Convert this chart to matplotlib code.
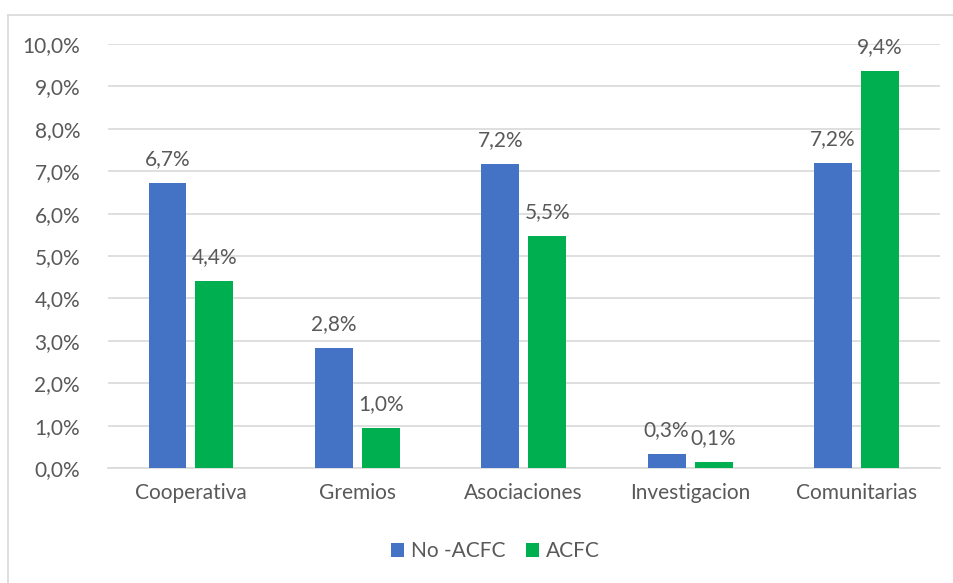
import matplotlib.pyplot as plt
import numpy as np
from matplotlib.lines import Line2D

categories = ['Cooperativa', 'Gremios', 'Asociaciones', 'Investigacion', 'Comunitarias']
no_acfc = [6.72, 2.83, 7.16, 0.33, 7.2]
acfc = [4.42, 0.95, 5.47, 0.14, 9.37]
no_acfc_labels = ['6,7%', '2,8%', '7,2%', '0,3%', '7,2%']
acfc_labels = ['4,4%', '1,0%', '5,5%', '0,1%', '9,4%']
yticks = np.arange(0, 11, 1)

plt.rcParams['font.family'] = ['Lato', 'DejaVu Sans']
text_color = '#595959'
blue = '#4472c4'
green = '#00b050'
fs = 15

fig = plt.figure(figsize=(9.54, 5.83), dpi=100)
ax = fig.add_axes([0.113, 0.197, 0.872, 0.7275])

x = np.arange(len(categories))
w = 0.228
off = 0.141
bars1 = ax.bar(x - off, no_acfc, w, color=blue, label='No -ACFC', zorder=3)
bars2 = ax.bar(x + off, acfc, w, color=green, label='ACFC', zorder=3)

# value labels above the bars
for bars, labels in [(bars1, no_acfc_labels), (bars2, acfc_labels)]:
    for bar, lab in zip(bars, labels):
        ax.annotate(lab, xy=(bar.get_x() + bar.get_width() / 2, bar.get_height()),
                    xytext=(0, 10), textcoords='offset points', ha='center', va='bottom',
                    fontsize=fs, color=text_color, annotation_clip=False)

ax.set_xlim(-0.5, 4.5)
ax.set_ylim(0, 10)
ax.set_yticks(yticks)
ax.set_yticklabels([f'{v},0%' for v in yticks])
ax.set_xticks(x)
ax.set_xticklabels(categories)
ax.tick_params(axis='both', length=0, labelsize=fs, colors=text_color)
ax.tick_params(axis='y', pad=20)
ax.tick_params(axis='x', pad=11)
ax.grid(axis='y', color='#d9d9d9', linewidth=1.2, zorder=0)
for s in ['top', 'right', 'left']:
    ax.spines[s].set_visible(False)
ax.spines['bottom'].set_color('#d9d9d9')
ax.spines['bottom'].set_linewidth(1.2)

leg = fig.legend(handles=[bars1, bars2], loc='center', bbox_to_anchor=(0.519, 0.055), ncol=2,
                 frameon=False, fontsize=fs, handlelength=0.65, handleheight=0.65,
                 handletextpad=0.3, columnspacing=1.0)
for t in leg.get_texts():
    t.set_color(text_color)

# chart border (left and top visible)
fig.add_artist(Line2D([8 / 954, 8 / 954], [0, 1 - 15 / 583], transform=fig.transFigure,
                      color='#d9d9d9', linewidth=1.2))
fig.add_artist(Line2D([8 / 954, 1], [1 - 15 / 583, 1 - 15 / 583], transform=fig.transFigure,
                      color='#d9d9d9', linewidth=1.2))

fig.savefig('out.png', dpi=100)
